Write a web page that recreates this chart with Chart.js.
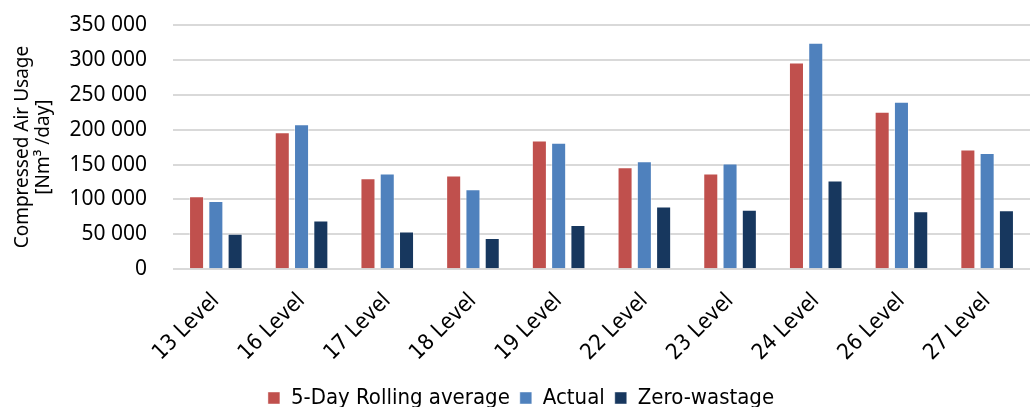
<!DOCTYPE html>
<html>
<head>
<meta charset="utf-8">
<script src="https://cdn.jsdelivr.net/npm/chart.js@4.4.0/dist/chart.umd.min.js"></script>
<style>
    html, body { margin: 0; padding: 0; background: #fff; overflow: hidden; }
    #wrap { width: 1030px; height: 419px; }
</style>
</head>
<body>
<div id="wrap"><canvas id="barChart" width="1030" height="419"></canvas></div>
<script>
var levels = ['13 Level', '16 Level', '17 Level', '18 Level', '19 Level', '22 Level', '23 Level', '24 Level', '26 Level', '27 Level'];
var rollingAverage = [104700, 196300, 130300, 134100, 184600, 146100, 137000, 296100, 225700, 171400];
var actual = [97600, 207700, 137000, 114400, 181100, 154800, 151400, 324700, 240000, 166600];
var zeroWastage = [50600, 69600, 53900, 44500, 63200, 89900, 85000, 127100, 83100, 84600];
var yTicks = [0, 50000, 100000, 150000, 200000, 250000, 300000, 350000];

var narrowFont = '"Liberation Sans Narrow", "DejaVu Sans Condensed", "Liberation Sans", sans-serif';
var plainFont = '"Noto Sans", "Open Sans", sans-serif';

function dataset(label, color, values) {
    return {
        label: label,
        data: values,
        backgroundColor: color,
        borderColor: 'rgba(255, 255, 255, 0.45)',
        borderWidth: 1,
        categoryPercentage: 0.675,
        barPercentage: 0.78
    };
}

var ctx = document.getElementById('barChart').getContext('2d');

var barChart = new Chart(ctx, {
    type: 'bar',
    data: {
        labels: levels,
        datasets: [
            dataset('5-Day Rolling average', '#C0504D', rollingAverage),
            dataset('Actual', '#4F81BD', actual),
            dataset('Zero-wastage', '#17375E', zeroWastage)
        ]
    },
    options: {
        responsive: false,
        animation: false,
        devicePixelRatio: 1,
        layout: { padding: { top: 25, right: 0, left: 12, bottom: 0 } },
        plugins: {
            tooltip: { enabled: false },
            legend: {
                position: 'bottom',
                labels: {
                    color: '#000',
                    font: { family: narrowFont, size: 22 },
                    boxWidth: 12,
                    boxHeight: 12,
                    padding: 10
                }
            }
        },
        scales: {
            x: {
                grid: { display: false },
                border: { display: false },
                ticks: {
                    color: '#000',
                    font: { family: narrowFont, size: 22 },
                    minRotation: 45,
                    maxRotation: 45,
                    padding: 11
                }
            },
            y: {
                min: 0,
                max: 350000,
                afterBuildTicks: function (scale) {
                    scale.ticks = yTicks.map(function (v) { return { value: v }; });
                },
                afterFit: function (scale) {
                    // keep the axis width fixed and stop the tick padding from pushing the plot down
                    scale.width = 161;
                    scale.paddingTop = 0;
                    scale.paddingBottom = 0;
                },
                grid: { color: '#D9D9D9', lineWidth: 2, drawTicks: false },
                border: { display: false },
                ticks: {
                    color: '#000',
                    font: { family: plainFont, size: 21 },
                    padding: 26,
                    callback: function (v) {
                        return String(v).replace(/\B(?=(\d{3})+(?!\d))/g, ' ');
                    }
                },
                title: {
                    display: true,
                    text: ['Compressed Air Usage', '[Nm\u00b3 /day]'],
                    color: '#000',
                    font: { family: plainFont, size: 19, lineHeight: 1.1 },
                    padding: { top: 0, bottom: 0 }
                }
            }
        }
    }
});
</script>
</body>
</html>
